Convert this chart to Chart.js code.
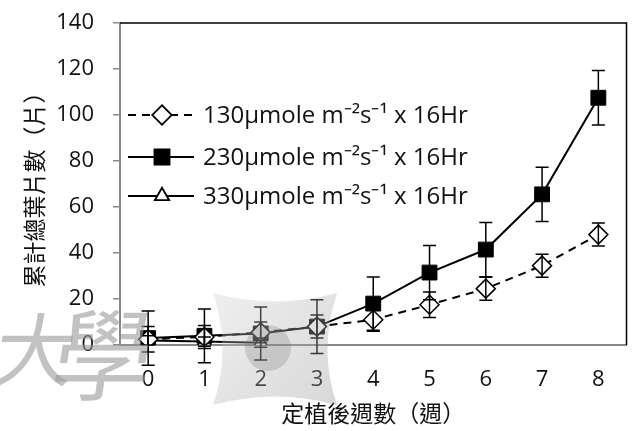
<!DOCTYPE html>
<html>
<head>
<meta charset="utf-8">
<script src="https://cdn.jsdelivr.net/npm/chart.js@4.4.0/dist/chart.umd.min.js"></script>
<style>
  html, body { margin: 0; padding: 0; background: #fff; }
  #wrap { width: 638px; height: 431px; position: relative; }
</style>
</head>
<body>
<div id="wrap"><canvas id="c" width="638" height="431"></canvas></div>
<script>
// ---- data ----
const weeks = ['0', '1', '2', '3', '4', '5', '6', '7', '8'];
const seriesNames = [
  '130µmole m⁻²s⁻¹ x 16Hr',
  '230µmole m⁻²s⁻¹ x 16Hr',
  '330µmole m⁻²s⁻¹ x 16Hr'
];
const leaves130 = [2.5, 3.5, 5.5, 8, 11, 17.5, 24.5, 34.5, 48];
const err130 = [5.5, 5, 4.5, 5, 5, 5.5, 5, 5, 5];
const leaves230 = [3, 4, 5, 8, 18, 31.5, 41.5, 65.5, 107.5];
const err230 = [11.8, 11.7, 11.5, 11.7, 11.6, 11.8, 11.8, 11.8, 11.8];
const leaves330 = [2, 1.5, 1, null, null, null, null, null, null];
const err330 = [2, 2, 2, null, null, null, null, null, null];
const yTicks = [0, 20, 40, 60, 80, 100, 120, 140];
const xTitle = '定植後週數（週）';
const yTitle = '累計總葉片數（片）';

const FONT = "'Open Sans', 'Noto Sans CJK TC', sans-serif";
const CJK = "'Noto Sans CJK TC', sans-serif";
const errors = [err130, err230, err330];

const errorBarPlugin = {
  id: 'errorBars',
  afterDatasetsDraw(chart) {
    const ctx = chart.ctx;
    const y = chart.scales.y;
    ctx.save();
    chart.data.datasets.forEach((ds, i) => {
      const meta = chart.getDatasetMeta(i);
      const err = errors[i];
      meta.data.forEach((pt, j) => {
        const v = ds.data[j];
        if (v == null || err[j] == null) return;
        const x = pt.x;
        const yTop = y.getPixelForValue(v + err[j]);
        const yBot = y.getPixelForValue(v - err[j]);
        ctx.strokeStyle = '#000';
        ctx.lineWidth = 1.5;
        ctx.beginPath();
        ctx.moveTo(x, yTop); ctx.lineTo(x, yBot);
        ctx.moveTo(x - 6.5, yTop); ctx.lineTo(x + 6.5, yTop);
        ctx.moveTo(x - 6.5, yBot); ctx.lineTo(x + 6.5, yBot);
        ctx.stroke();
      });
    });
    ctx.restore();
  }
};

const frameLegendPlugin = {
  id: 'frameLegend',
  afterDraw(chart) {
    const ctx = chart.ctx;
    const a = chart.chartArea;
    ctx.save();
    // top & right borders (black)
    ctx.strokeStyle = '#000';
    ctx.lineWidth = 1.5;
    ctx.beginPath();
    ctx.moveTo(a.left, a.top); ctx.lineTo(a.right, a.top); ctx.lineTo(a.right, a.bottom);
    ctx.stroke();
    // legend
    const rows = [115, 157, 196];
    chart.data.datasets.forEach((ds, i) => {
      const yy = rows[i];
      ctx.strokeStyle = '#000';
      ctx.lineWidth = 2;
      ctx.setLineDash(ds.borderDash || []);
      ctx.beginPath();
      ctx.moveTo(128, yy); ctx.lineTo(194, yy);
      ctx.stroke();
      ctx.setLineDash([]);
      Chart.helpers.drawPoint(ctx, {
        pointStyle: ds.pointStyle,
        radius: ds.pointRadius,
        rotation: 0,
        borderWidth: ds.pointBorderWidth
      }, 162, yy);
      ctx.fillStyle = ds.pointBackgroundColor;
      ctx.strokeStyle = '#000';
      ctx.lineWidth = ds.pointBorderWidth;
      ctx.fill();
      ctx.stroke();
      ctx.fillStyle = '#111';
      ctx.font = '24px ' + FONT;
      ctx.textBaseline = 'middle';
      ctx.textAlign = 'left';
      ctx.fillText(seriesNames[i], 203, yy + 1);
    });
    // watermark
    ctx.globalAlpha = 0.35;
    const g = ctx.createLinearGradient(213, 293, 335, 405);
    g.addColorStop(0, '#d0d0d0');
    g.addColorStop(1, '#909090');
    ctx.fillStyle = g;
    ctx.beginPath();
    ctx.moveTo(213, 293);
    ctx.quadraticCurveTo(275, 310, 337, 293);
    ctx.quadraticCurveTo(318, 350, 337, 405);
    ctx.quadraticCurveTo(275, 388, 213, 405);
    ctx.quadraticCurveTo(232, 350, 213, 293);
    ctx.fill();
    ctx.globalAlpha = 0.25;
    ctx.fillStyle = '#707070';
    ctx.beginPath();
    ctx.arc(268, 348, 23, 0, Math.PI * 2);
    ctx.fill();
    ctx.globalAlpha = 0.6;
    ctx.fillStyle = '#9a9a9a';
    ctx.textAlign = 'center';
    ctx.textBaseline = 'middle';
    ctx.setTransform(1, 0, -0.15, 1, 0, 0);
    ctx.font = '400 80px ' + CJK;
    ctx.fillText('大', 88, 350);
    ctx.font = '400 100px ' + CJK;
    ctx.fillText('學', 157, 355);
    ctx.restore();
  }
};

new Chart(document.getElementById('c'), {
  type: 'line',
  data: {
    labels: weeks,
    datasets: [
      {
        label: seriesNames[0], data: leaves130,
        borderColor: '#000', borderWidth: 2, borderDash: [8, 6],
        pointStyle: 'rectRot', pointRadius: 9.5, pointBorderWidth: 1.5,
        pointBackgroundColor: '#fff', pointBorderColor: '#000',
        tension: 0, fill: false
      },
      {
        label: seriesNames[1], data: leaves230,
        borderColor: '#000', borderWidth: 2,
        pointStyle: 'rect', pointRadius: 10.5, pointBorderWidth: 1,
        pointBackgroundColor: '#000', pointBorderColor: '#000',
        tension: 0, fill: false
      },
      {
        label: seriesNames[2], data: leaves330,
        borderColor: '#000', borderWidth: 2,
        pointStyle: 'triangle', pointRadius: 8, pointBorderWidth: 1.5,
        pointBackgroundColor: '#fff', pointBorderColor: '#000',
        tension: 0, fill: false, spanGaps: false
      }
    ]
  },
  options: {
    responsive: false,
    animation: false,
    events: [],
    layout: { padding: { top: 23, right: 6, left: 0, bottom: 0 } },
    plugins: { legend: { display: false }, tooltip: { enabled: false } },
    scales: {
      x: {
        offset: true,
        grid: { display: false, drawTicks: false },
        border: { display: true, color: '#888', width: 2 },
        ticks: { color: '#111', font: { family: FONT, size: 22 }, padding: 22 },
        title: { display: true, text: xTitle, color: '#111', font: { family: CJK, size: 23 }, padding: { top: 0, bottom: 4 } },
        afterFit: s => { s.height = 86; s.paddingLeft = 0; s.paddingRight = 0; }
      },
      y: {
        min: 0, max: 140,
        grid: { drawOnChartArea: false, drawTicks: true, tickLength: 7, color: '#888', lineWidth: 1.5 },
        border: { display: true, color: '#888', width: 2 },
        afterBuildTicks: s => { s.ticks = yTicks.map(v => ({ value: v })); },
        ticks: { color: '#111', font: { family: FONT, size: 22 }, padding: 19 },
        title: { display: true, text: yTitle, color: '#111', font: { family: CJK, size: 23 }, padding: { top: 20, bottom: 0 } },
        afterFit: s => { s.width = 120; s.paddingTop = 0; s.paddingBottom = 0; }
      }
    }
  },
  plugins: [errorBarPlugin, frameLegendPlugin]
});
</script>
</body>
</html>
